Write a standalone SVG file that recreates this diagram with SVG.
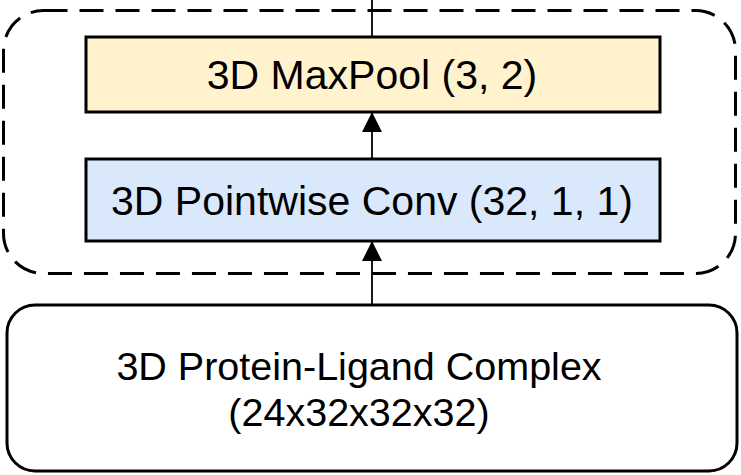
<svg xmlns="http://www.w3.org/2000/svg" width="741" height="475" viewBox="0 0 741 475">
<style>
.lbl{font-family:"Liberation Sans",Arial,sans-serif;font-size:41px;fill:#000;text-anchor:middle}
.lbl2{font-family:"Liberation Sans",Arial,sans-serif;font-size:39.5px;fill:#000;text-anchor:middle}
.box{stroke:#000;stroke-width:3}
.edge{stroke:#000;stroke-width:1.8;fill:none}
</style>
<defs>
<marker id="ah" markerUnits="userSpaceOnUse" markerWidth="20" markerHeight="20" viewBox="0 0 20 20" refX="19" refY="10" orient="auto">
<path d="M0,0 L20,10 L0,20 Z" fill="#000"/>
</marker>
</defs>
<rect width="741" height="475" fill="#fff"/>
<g id="group-block">
<rect x="3.5" y="10.5" width="732" height="263" rx="40" ry="40" fill="none" stroke="#000" stroke-width="3" stroke-dasharray="24 12"/>
</g>
<g id="input">
<rect class="box" x="7" y="305" width="730" height="166" rx="28" ry="28" fill="#fff"/>
<text class="lbl2" x="359" y="380">3D Protein-Ligand Complex</text>
<text class="lbl2" x="359" y="426">(24x32x32x32)</text>
</g>
<g id="conv">
<rect class="box" x="86" y="159" width="574" height="82" fill="#dae8fc"/>
<text class="lbl" x="372" y="215">3D Pointwise Conv (32, 1, 1)</text>
</g>
<g id="maxpool">
<rect class="box" x="86" y="37" width="574" height="75" fill="#fff2cc"/>
<text class="lbl" x="372" y="89">3D MaxPool (3, 2)</text>
</g>
<g id="connectors">
<line class="edge" x1="372" y1="305" x2="372" y2="242" marker-end="url(#ah)"/>
<line class="edge" x1="372" y1="159" x2="372" y2="113" marker-end="url(#ah)"/>
<line class="edge" x1="372" y1="37" x2="372" y2="0"/>
</g>
</svg>
